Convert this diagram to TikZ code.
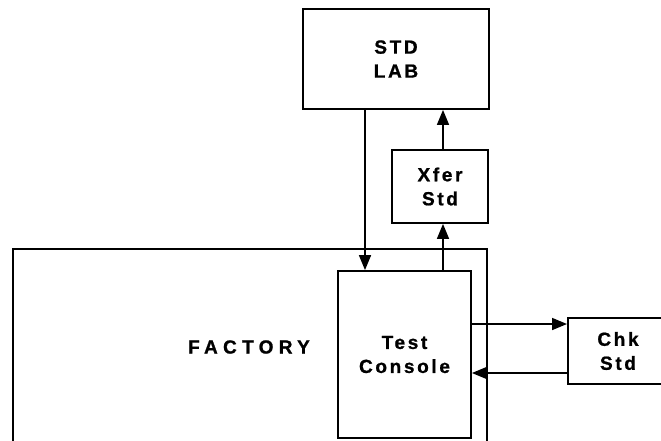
\documentclass[tikz,border=0pt]{standalone}
\usepackage{fontspec}
\newfontfamily\hb{Liberation Sans}[UprightFont={* Bold},LetterSpace=14,FakeBold=1]
\newfontfamily\hbw{Liberation Sans}[UprightFont={* Bold},LetterSpace=28,FakeBold=1]
\usetikzlibrary{arrows.meta}
\begin{document}
\begin{tikzpicture}[x=1pt,y=-1pt,
  box/.style={draw,line width=1.8pt,inner sep=0pt,font=\hb\fontsize{19}{24}\selectfont,align=center},
  arr/.style={line width=1.6pt,-{Triangle[length=15pt,width=12pt]}},
  lbl/.style={font=\hb\fontsize{19}{24}\selectfont}]
\clip (0,0) rectangle (661,440);
\node[box,minimum width=186pt,minimum height=100pt] (lab) at (396,59) {STD\\LAB};
\node[box,minimum width=96pt,minimum height=73pt] (xfer) at (440,186.5) {Xfer\\Std};
\node[box,minimum width=474pt,minimum height=240pt] (fac) at (250,369) {};
\node[lbl,font=\hbw\fontsize{19}{24}\selectfont] (factory) at (249,347) {FACTORY};
\node[box,minimum width=133pt,minimum height=167pt] (tc) at (404.5,354.5) {Test\\Console};
\node[box,minimum width=130pt,minimum height=66pt,anchor=west] (chk) at (567,351) {};
\node[lbl,align=center] (chkt) at (618,351) {Chk\\Std};
\draw[arr] (lab.south -| 365,0) -- (tc.north -| 365,0);
\draw[arr] (tc.north -| 443,0) -- (xfer.south -| 443,0);
\draw[arr] (xfer.north -| 443,0) -- (lab.south -| 443,0);
\draw[arr] (tc.east |- 0,324) -- (chk.west |- 0,324);
\draw[arr] (chk.west |- 0,373) -- (tc.east |- 0,373);
\end{tikzpicture}
\end{document}
